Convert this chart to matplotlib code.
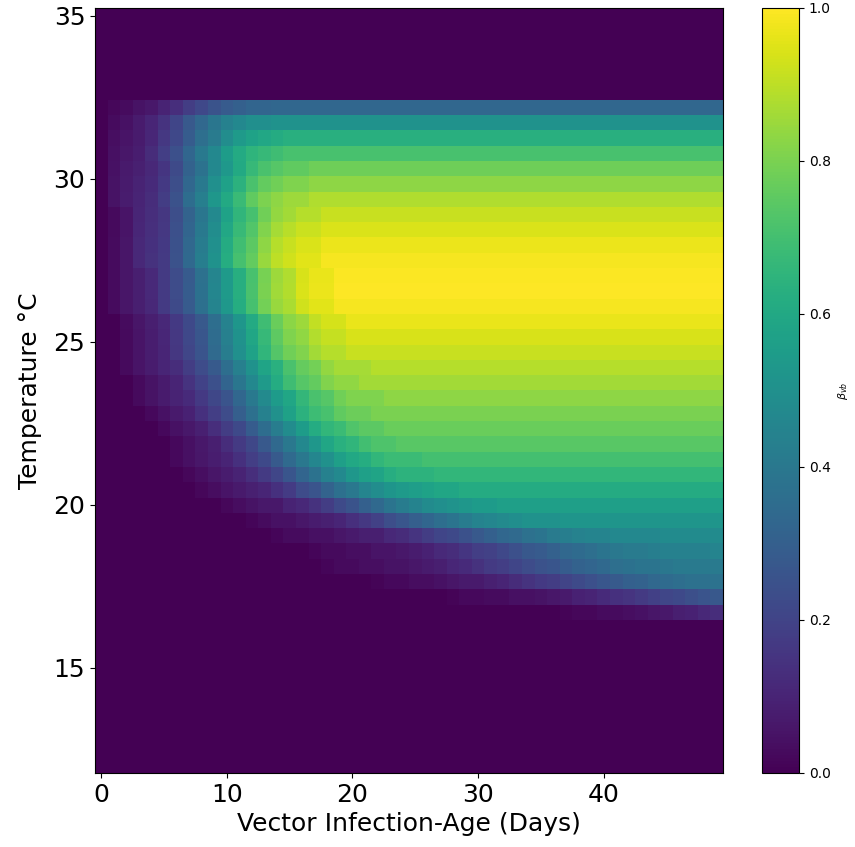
import numpy as np
from matplotlib import pyplot as plt

# Grid: vector infection-age (days) and temperature (top row = 35 C)
days = np.arange(50)
temperatures = np.linspace(35, 12, 50)

xTicks = [0, 10, 20, 30, 40]
yTicks = [15, 20, 25, 30, 35]

# Plateau of beta_vb reached in each temperature row (top -> bottom)
plateau = [
    0.0, 0.0, 0.0, 0.0, 0.0, 0.0,
    0.33, 0.51, 0.63, 0.71, 0.78, 0.83, 0.88, 0.915, 0.945, 0.97,
    0.985, 0.995, 1.0, 0.985, 0.965, 0.94, 0.915, 0.89, 0.86, 0.83,
    0.80, 0.77, 0.74, 0.70, 0.66, 0.61, 0.56, 0.52, 0.48, 0.45,
    0.42, 0.39, 0.35, 0.32,
    0.0, 0.0, 0.0, 0.0, 0.0, 0.0, 0.0, 0.0, 0.0, 0.0,
]

# Fraction of the plateau reached at each day, one char per cell
# '0'..'Z' -> 0..35, divided by 35 (rows top -> bottom, days 0..49)
Z10 = "ZZZZZZZZZZ"
O10 = "0000000000"
fractionRows = [
    O10 + O10 + O10 + O10 + O10,
    O10 + O10 + O10 + O10 + O10,
    O10 + O10 + O10 + O10 + O10,
    O10 + O10 + O10 + O10 + O10,
    O10 + O10 + O10 + O10 + O10,
    O10 + O10 + O10 + O10 + O10,
    "02357AEJNR" "UWYYZZZZZZ" + Z10 + Z10 + Z10,
    "02357AEJNR" "UWYYZZZZZZ" + Z10 + Z10 + Z10,
    "023469CGKN" "RUWXYZZZZZ" + Z10 + Z10 + Z10,
    "023469CGKN" "RUWXYZZZZZ" + Z10 + Z10 + Z10,
    "023457AEHL" "ORUWXYYZZZ" + Z10 + Z10 + Z10,
    "023457AEHL" "ORUWXYYZZZ" + Z10 + Z10 + Z10,
    "023457AEHL" "ORUWXYYZZZ" + Z10 + Z10 + Z10,
    "0124569CFI" "MPRUWXYYZZ" + Z10 + Z10 + Z10,
    "0124569CFI" "MPRUWXYYZZ" + Z10 + Z10 + Z10,
    "0124569CFI" "MPRUWXYYZZ" + Z10 + Z10 + Z10,
    "0124569CFI" "MPRUWXYYZZ" + Z10 + Z10 + Z10,
    "0123468ADG" "JMPSUVXYYZ" + Z10 + Z10 + Z10,
    "0123468ADG" "JMPSUVXYYZ" + Z10 + Z10 + Z10,
    "0123468ADG" "JMPSUVXYYZ" + Z10 + Z10 + Z10,
    "00123468AD" "GJMPSUVXYY" + Z10 + Z10 + Z10,
    "00123468AD" "GJMPSUVXYY" + Z10 + Z10 + Z10,
    "00123468AD" "GJMPSUVXYY" + Z10 + Z10 + Z10,
    "001234579B" "EHKNPSUVXY" "YYZZZZZZZZ" + Z10 + Z10,
    "000123468A" "DGJMPSUVXY" "YZZZZZZZZZ" + Z10 + Z10,
    "0001234579" "BEHKNPSUVX" "YYYZZZZZZZ" + Z10 + Z10,
    "0000123468" "ADGJMPSUVX" "YYZZZZZZZZ" + Z10 + Z10,
    "0000012346" "8ADGJMPSUV" "XYYZZZZZZZ" + Z10 + Z10,
    "0000001234" "68ADGJMPSU" "VXYYZZZZZZ" + Z10 + Z10,
    "0000001234" "579BEHKNPS" "UVXYYYZZZZ" + Z10 + Z10,
    "0000000123" "4579BEHKNP" "SUVXYYYZZZ" + Z10 + Z10,
    "0000000012" "34568ADFIL" "NQSUVWXYYZ" + Z10 + Z10,
    "0000000000" "12344679BE" "GJLOQSUVWX" "YYZZZZZZZZ" + Z10,
    O10 + "0012334567" "9BDGIKMOQS" "UVWXYYYZZZ" + Z10,
    O10 + "0000122334" "56689BDFGI" "KMOPRSUVWX" "XYYYYZZZZZ",
    O10 + "0000000122" "33445679AC" "EFHJLMOQRS" "UVWWXYYYYZ",
    O10 + "0000000012" "233445679A" "CEFHJLMOQR" "SUVWWXYYYY",
    O10 + O10 + "0012233456" "689BDFGIKM" "OPRSUVWXXY",
    O10 + O10 + "0000000012" "233445679A" "CEFHJLMOQR",
    O10 + O10 + O10 + "0000000122" "3345679ACE",
    O10 + O10 + O10 + O10 + O10,
    O10 + O10 + O10 + O10 + O10,
    O10 + O10 + O10 + O10 + O10,
    O10 + O10 + O10 + O10 + O10,
    O10 + O10 + O10 + O10 + O10,
    O10 + O10 + O10 + O10 + O10,
    O10 + O10 + O10 + O10 + O10,
    O10 + O10 + O10 + O10 + O10,
    O10 + O10 + O10 + O10 + O10,
    O10 + O10 + O10 + O10 + O10,
]

levels = "0123456789ABCDEFGHIJKLMNOPQRSTUVWXYZ"
for row in fractionRows:
    assert len(row) == 50, row

fraction = np.array([[levels.index(c) / 35 for c in row] for row in fractionRows])
betaVB = np.array(plateau)[:, None] * fraction

fig = plt.figure(figsize=(8.55, 8.47), dpi=100)
ax = fig.add_axes([0.1111, 0.0874, 0.7345, 0.9032])
cax = fig.add_axes([0.8912, 0.0874, 0.0433, 0.9032])

mesh = ax.pcolormesh(days, temperatures, betaVB, cmap='viridis',
                     vmin=0, vmax=1, shading='nearest')
ax.set_xticks(xTicks)
ax.set_yticks(yTicks)
ax.tick_params(labelsize=18)
ax.set_xlabel("Vector Infection-Age (Days)", fontsize=18)
ax.set_ylabel("Temperature °C", fontsize=18, labelpad=8)

cb = fig.colorbar(mesh, cax=cax)
cb.set_label(r'$\beta_{vb}$', fontsize=8)

fig.savefig('out.png', dpi=100)
